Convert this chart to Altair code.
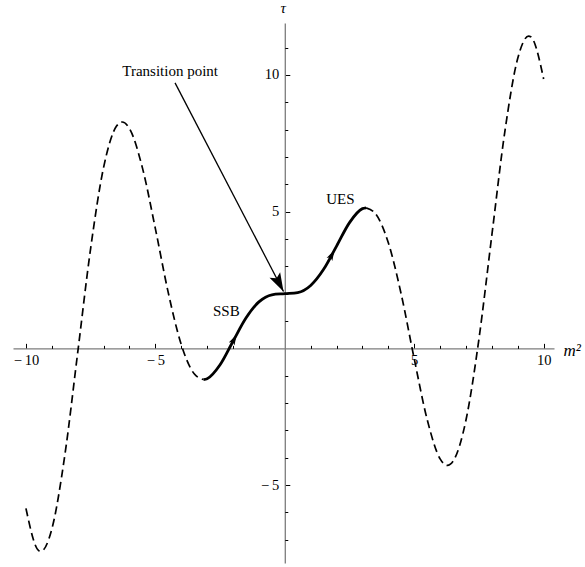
import altair as alt
import pandas as pd

# Sampled curve tau(m^2)
m2_values = [-10.0, -9.5, -9.42, -9.0, -8.5, -8.0, -7.5, -7.0, -6.5, -6.28, -6.0,
             -5.5, -5.0, -4.5, -4.0, -3.5, -3.14, -3.0, -2.5, -2.0, -1.5, -1.0,
             -0.5, 0.0, 0.5, 1.0, 1.5, 2.0, 2.5, 3.0, 3.14, 3.5, 4.0, 4.5, 5.0,
             5.5, 6.0, 6.28, 6.5, 7.0, 7.5, 8.0, 8.5, 9.0, 9.42, 9.5, 10.0]
tau_values = [-5.85, -7.40, -7.42, -6.61, -3.92, -0.15, 3.66, 6.62, 8.13, 8.28, 8.04,
              6.60, 4.38, 2.03, 0.14, -0.93, -1.14, -1.11, -0.60, 0.26, 1.11, 1.70,
              1.96, 2.00, 2.04, 2.30, 2.89, 3.74, 4.60, 5.11, 5.14, 4.93, 3.86, 1.97, -0.38,
              -2.60, -4.04, -4.28, -4.13, -2.62, 0.34, 4.15, 7.92, 10.61, 11.42, 11.40, 9.85]

# Solid branch between the two turning points
branch_start, branch_end = -3.14, 3.14

# Axis ticks
x_ticks_major = [-10, -5, 5, 10]
x_ticks_minor = [-9, -8, -7, -6, -4, -3, -2, -1, 1, 2, 3, 4, 6, 7, 8, 9]
y_ticks_major = [-5, 5, 10]
y_ticks_minor = [-7, -6, -4, -3, -2, -1, 1, 2, 3, 4, 6, 7, 8, 9, 11]

# Annotations
note_text = ["Transition point", "SSB", "UES"]
note_m2 = [-4.43, -2.26, 2.15]
note_tau = [10.15, 1.37, 5.48]

pointer_m2 = [-4.24, -0.05]
pointer_tau = [9.71, 2.08]

flow_m2 = [-1.86, 1.92]
flow_tau = [0.51, 3.60]

# ---- layout ----
W, H = 541, 540
X_DOM = [-10.5, 10.4]
Y_DOM = [-7.85, 11.9]
x_axis_shift = H * Y_DOM[1] / (Y_DOM[1] - Y_DOM[0])   # from top edge down to tau = 0
y_axis_shift = W * X_DOM[1] / (X_DOM[1] - X_DOM[0])   # from right edge left to m^2 = 0

SERIF = "Liberation Serif"
AXIS_GREY = "#7c7c7c"
MINUS_EXPR = "datum.value < 0 ? '\u2212\u2009' + abs(datum.value) : datum.label"

curve = pd.DataFrame({"m2": m2_values, "tau": tau_values})
left = curve[curve.m2 <= branch_start]
mid = curve[(curve.m2 >= branch_start) & (curve.m2 <= branch_end)]
right = curve[curve.m2 >= branch_end]

xs = alt.Scale(domain=X_DOM, nice=False, zero=False)
ys = alt.Scale(domain=Y_DOM, nice=False, zero=False)

# Axis line with major ticks (ticks point up / right)
x_major = alt.Axis(orient="top", offset=-x_axis_shift, values=x_ticks_major, labels=False,
                   tickSize=5, tickColor="black", tickWidth=1, domain=True,
                   domainColor=AXIS_GREY, domainWidth=1.3, grid=False,
                   title="m\u00b2", titleFont=SERIF, titleFontSize=17, titleFontStyle="italic",
                   titleFontWeight="normal", titleColor="black", titleX=550, titleY=7,
                   titleAlign="left", titleBaseline="alphabetic", titleAngle=0)
y_major = alt.Axis(orient="right", offset=-y_axis_shift, values=y_ticks_major, labels=False,
                   tickSize=5, tickColor="black", tickWidth=1, domain=True,
                   domainColor=AXIS_GREY, domainWidth=1.3, grid=False,
                   title="\u03c4", titleFont=SERIF, titleFontSize=15, titleFontStyle="italic",
                   titleFontWeight="normal", titleColor="black", titleX=-2, titleY=-16,
                   titleAlign="center", titleBaseline="middle", titleAngle=0)
# Minor ticks
x_minor = alt.Axis(orient="top", offset=-x_axis_shift, values=x_ticks_minor, labels=False,
                   tickSize=3, tickColor="black", tickWidth=1, domain=False, grid=False, title=None)
y_minor = alt.Axis(orient="right", offset=-y_axis_shift, values=y_ticks_minor, labels=False,
                   tickSize=3, tickColor="black", tickWidth=1, domain=False, grid=False, title=None)
# Tick labels (below / left of the axis lines)
x_labels = alt.Axis(orient="bottom", offset=-(H - x_axis_shift), values=x_ticks_major,
                    ticks=False, domain=False, grid=False, title=None, labelPadding=5,
                    labelFont=SERIF, labelFontSize=14.5, labelColor="black", labelFlush=False,
                    labelOverlap=False, labelExpr=MINUS_EXPR)
y_labels = alt.Axis(orient="left", offset=-(W - y_axis_shift), values=y_ticks_major,
                    ticks=False, domain=False, grid=False, title=None, labelPadding=6,
                    labelFont=SERIF, labelFontSize=14.5, labelColor="black", labelFlush=False,
                    labelOverlap=False, labelExpr=MINUS_EXPR)

dashed = dict(color="black", strokeWidth=1.7, strokeDash=[8, 4.5], interpolate="monotone")

left_line = alt.Chart(left).mark_line(**dashed).encode(
    x=alt.X("m2:Q", scale=xs, axis=x_major),
    y=alt.Y("tau:Q", scale=ys, axis=y_major),
)
right_line = alt.Chart(right).mark_line(**dashed).encode(
    x=alt.X("m2:Q", scale=xs, axis=x_minor),
    y=alt.Y("tau:Q", scale=ys, axis=y_minor),
)
mid_line = alt.Chart(mid).mark_line(color="black", strokeWidth=2.8, interpolate="monotone").encode(
    x=alt.X("m2:Q", scale=xs, axis=x_labels),
    y=alt.Y("tau:Q", scale=ys, axis=y_labels),
)

small_head = "M0,0 L0.3,1 L0,0.78 L-0.3,1 Z"
big_head = "M0,0 L0.32,1 L0,0.8 L-0.32,1 Z"

flow_df = pd.DataFrame({"m2": flow_m2, "tau": flow_tau})
flow_heads = alt.Chart(flow_df).mark_point(
    shape=small_head, filled=True, color="black", opacity=1, size=460, angle=28, strokeWidth=0
).encode(
    x=alt.X("m2:Q", scale=xs, axis=None),
    y=alt.Y("tau:Q", scale=ys, axis=None),
)

pointer_df = pd.DataFrame({"m2": [pointer_m2[0]], "tau": [pointer_tau[0]],
                           "m2_end": [pointer_m2[1]], "tau_end": [pointer_tau[1]]})
pointer_line = alt.Chart(pointer_df).mark_rule(color="black", strokeWidth=1.3).encode(
    x=alt.X("m2:Q", scale=xs, axis=None),
    y=alt.Y("tau:Q", scale=ys, axis=None),
    x2="m2_end:Q",
    y2="tau_end:Q",
)
pointer_head = alt.Chart(pointer_df).mark_point(
    shape=big_head, filled=True, color="black", opacity=1, size=1400, angle=152.4, strokeWidth=0
).encode(
    x=alt.X("m2_end:Q", scale=xs, axis=None),
    y=alt.Y("tau_end:Q", scale=ys, axis=None),
)

notes_df = pd.DataFrame({"m2": note_m2, "tau": note_tau, "text": note_text})
notes = alt.Chart(notes_df).mark_text(
    font=SERIF, fontSize=15, color="black", align="center", baseline="middle"
).encode(
    x=alt.X("m2:Q", scale=xs, axis=None),
    y=alt.Y("tau:Q", scale=ys, axis=None),
    text="text:N",
)

chart = alt.layer(
    left_line, right_line, mid_line, pointer_line, pointer_head, flow_heads, notes
).resolve_axis(
    x="independent", y="independent"
).properties(
    width=W, height=H,
    autosize=alt.AutoSizeParams(type="none"),
    padding={"left": 13, "top": 23, "right": 31, "bottom": 4},
    background="white",
).configure_view(strokeWidth=0)

chart.save("out.html", embed_options={"renderer": "svg", "actions": False})
